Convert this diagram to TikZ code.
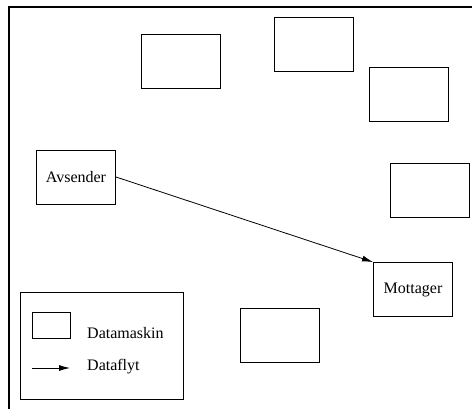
\documentclass[tikz,border=0pt]{standalone}
\usepackage{fontspec}
\setmainfont{Liberation Serif}
\usetikzlibrary{arrows.meta}
\begin{document}
\begin{tikzpicture}[x=1pt,y=-1pt,
  machine/.style={draw, line width=0.9pt, minimum width=79pt, minimum height=54pt,
    inner sep=0pt, font=\fontsize{16}{19}\selectfont},
  flow/.style={line width=0.8pt, -{Latex[length=11pt,width=6pt]}},
  lbl/.style={anchor=west, inner sep=0pt, font=\fontsize{16}{19}\selectfont}]
\useasboundingbox (0,0) rectangle (472,409);
\clip (0,0) rectangle (472,409);
% outer frame, running off the right and bottom edges
\draw[line width=2pt] (9,7) rectangle (495,430);

% computers in the network
\node[machine] (m1) at (180.5,61) {};
\node[machine] (m2) at (313.5,44) {};
\node[machine] (m3) at (409,94) {};
\node[machine] (m4) at (429.5,190) {};
\node[machine] (m5) at (280,335) {};
\node[machine] (snd) at (76,177) {Avsender};
\node[machine] (rcv) at (413,289.5) {Mottager};

% data flow from sender to receiver
\draw[flow] (snd.east) -- (rcv.north west);

% legend
\node[draw, line width=0.9pt, minimum width=163pt, minimum height=107pt, inner sep=0pt]
  (legend) at (101.5,345.5) {};
\node[draw, line width=0.9pt, minimum width=38pt, minimum height=26pt, inner sep=0pt]
  (keybox) at (51,325) {};
\node[lbl] (keyboxtxt) at (87,333) {Datamaskin};
\coordinate (keyfrom) at (32,368);
\coordinate (keyto) at (70,368);
\draw[flow] (keyfrom) -- (keyto);
\node[lbl] (keyflowtxt) at (87,367) {Dataflyt};
\end{tikzpicture}
\end{document}
